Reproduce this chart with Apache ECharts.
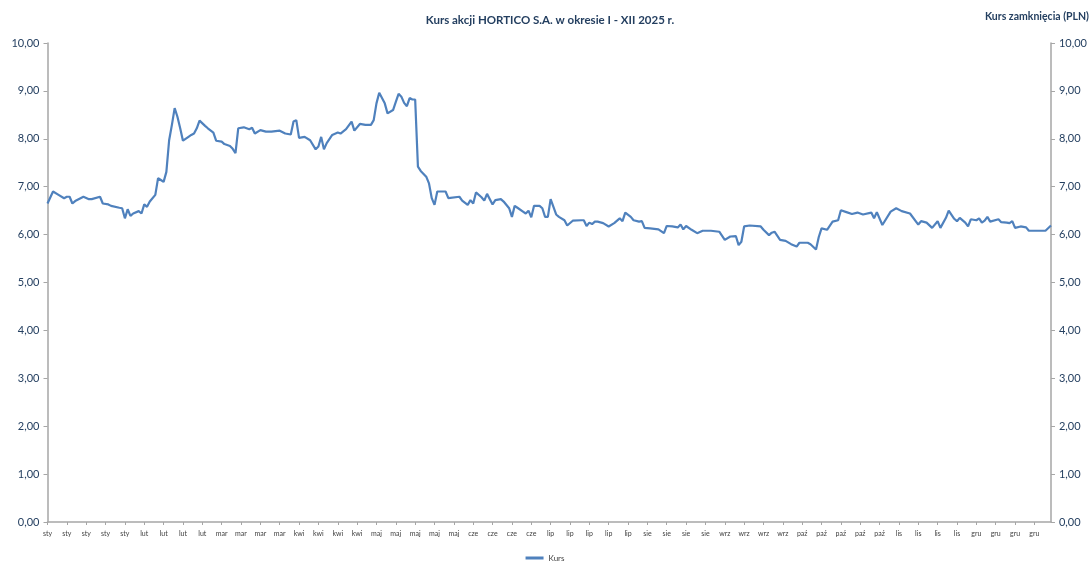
<!DOCTYPE html>
<html>
<head>
<meta charset="utf-8">
<script src="https://cdn.jsdelivr.net/npm/echarts@6/dist/echarts.min.js"></script>
<style>
html,body{margin:0;padding:0;background:#fff;}
#chart{width:1090px;height:563px;}
</style>
</head>
<body>
<div id="chart"></div>
<script>
// Days after 2 Jan 2025 (estimated positions of the quotes on the date axis)
const dayOffsets = [
  0,2,4,6,7,8,9,10,13,15,16,19,20,22,23,26,27,28,29,30,31,33,34,35,36,37,39,40,41,42,43,44,45,46,47,48,49,51,52,53,54,55,57,58,60,61,63,64,66,67,68,69,71,73,74,75,77,79,81,84,86,88,89,90,91,93,95,97,98,99,100,101,103,
  105,106,108,110,111,113,115,117,118,119,120,122,123,125,126,127,128,129,130,131,132,133,134,135,137,138,139,140,141,144,145,149,150,152,153,154,155,157,158,159,161,162,164,165,167,168,169,170,172,173,174,175,176,178,179,180,181,182,184,185,187,188,190,193,194,195,196,197,198,
  199,201,203,205,207,208,209,211,212,214,215,216,218,221,223,224,226,228,229,230,231,233,235,237,240,243,245,247,249,250,251,252,254,258,259,261,262,263,265,267,269,271,272,275,276,278,279,
  280,282,284,286,287,289,291,293,295,298,299,300,302,305,307,309,312,315,316,318,320,322,323,325,326,328,329,330,332,333,334,336,337,338,339,340,341,344,345,347,348,349,350,352,354,355,361,363
];
// Closing price (PLN)
const closes = [
  6.65,6.90,6.83,6.76,6.79,6.79,6.65,6.70,6.79,6.74,6.74,6.79,6.65,6.63,6.60,6.56,6.55,6.34,6.53,6.39,6.44,6.49,6.44,6.63,6.58,6.69,6.83,7.18,7.14,7.10,7.31,7.97,8.29,8.64,8.46,8.22,7.96,8.04,8.08,8.11,8.22,8.38,8.27,8.22,8.13,7.96,7.94,7.89,7.85,7.79,7.70,8.22,8.24,8.20,8.23,8.11,8.18,8.15,8.15,8.17,8.11,8.09,8.36,8.39,8.02,8.04,7.97,7.78,7.84,8.04,7.78,7.91,8.08,
  8.13,8.11,8.20,8.36,8.17,8.31,8.29,8.29,8.39,8.74,8.96,8.74,8.53,8.60,8.77,8.94,8.88,8.75,8.68,8.85,8.82,8.82,7.42,7.33,7.21,7.07,6.76,6.62,6.90,6.90,6.76,6.79,6.71,6.62,6.72,6.65,6.88,6.78,6.71,6.85,6.63,6.72,6.74,6.69,6.55,6.37,6.60,6.56,6.48,6.44,6.50,6.36,6.60,6.60,6.55,6.37,6.37,6.74,6.42,6.37,6.30,6.19,6.29,6.30,6.30,6.18,6.25,6.22,6.27,
  6.27,6.24,6.17,6.24,6.34,6.28,6.46,6.37,6.30,6.27,6.28,6.14,6.13,6.11,6.03,6.18,6.17,6.15,6.21,6.11,6.18,6.10,6.03,6.08,6.08,6.06,5.89,5.96,5.97,5.78,5.85,6.17,6.19,6.17,6.10,5.99,6.04,6.06,5.89,5.87,5.80,5.75,5.83,5.83,5.80,5.69,5.95,
  6.13,6.10,6.27,6.30,6.51,6.47,6.43,6.46,6.42,6.46,6.34,6.47,6.20,6.48,6.55,6.49,6.44,6.21,6.28,6.25,6.14,6.28,6.14,6.35,6.50,6.33,6.28,6.35,6.25,6.17,6.32,6.30,6.34,6.25,6.29,6.37,6.27,6.32,6.26,6.25,6.24,6.28,6.14,6.17,6.15,6.08,6.08,6.19
];
const monthAbbr = ['sty','lut','mar','kwi','maj','cze','lip','sie','wrz','paź','lis','gru'];
const titleText = 'Kurs akcji HORTICO S.A. w okresie I - XII 2025 r.';
const rightAxisTitle = 'Kurs zamknięcia (PLN)';
const seriesName = 'Kurs';
const startDate = Date.UTC(2025, 0, 2);
const lastDay = 363;

const seriesData = dayOffsets.map((d, i) => [d, closes[i]]);
const navy = '#243F60';
const axisGray = '#A6A6A6';
const fmtY = v => v.toFixed(2).replace('.', ',');

const chart = echarts.init(document.getElementById('chart'), null, {renderer: 'canvas'});
chart.setOption({
  animation: false,
  backgroundColor: '#ffffff',
  title: {
    text: titleText,
    left: 545, top: 9, textAlign: 'center',
    textStyle: {fontFamily: 'Lato', fontWeight: 'bold', fontSize: 11.5, color: navy}
  },
  graphic: [{
    type: 'text', right: 1, top: 11,
    style: {text: rightAxisTitle, font: 'bold 10.5px Lato', fill: navy}
  }],
  legend: {
    data: [seriesName], bottom: -4, left: 'center',
    icon: 'rect', itemWidth: 18, itemHeight: 3, itemGap: 4,
    textStyle: {fontFamily: 'Lato', fontSize: 8, color: '#404040'}
  },
  grid: {left: 47.5, right: 36.5, top: 43, bottom: 41, containLabel: false},
  xAxis: {
    type: 'value', min: 0, max: lastDay, interval: 7,
    splitLine: {show: false},
    axisLine: {lineStyle: {color: axisGray, width: 1.5}},
    axisTick: {show: true, length: 3, lineStyle: {color: axisGray}},
    axisLabel: {
      showMaxLabel: false,
      fontFamily: 'Lato', fontSize: 7, color: '#404040', margin: 8,
      formatter: v => {
        if (v % 7 !== 0) return '';
        const dt = new Date(startDate + v * 86400000);
        return monthAbbr[dt.getUTCMonth()];
      }
    }
  },
  yAxis: [{
    type: 'value', min: 0, max: 10, interval: 1, position: 'left',
    splitLine: {show: false},
    axisLine: {show: true, lineStyle: {color: axisGray, width: 1.5}},
    axisTick: {show: true, length: 4, lineStyle: {color: axisGray}},
    axisLabel: {formatter: fmtY, fontFamily: 'Lato', fontSize: 11, color: navy, margin: 8}
  }, {
    type: 'value', min: 0, max: 10, interval: 1, position: 'right',
    splitLine: {show: false},
    axisLine: {show: true, lineStyle: {color: axisGray, width: 1.5}},
    axisTick: {show: true, length: 4, lineStyle: {color: axisGray}},
    axisLabel: {formatter: fmtY, fontFamily: 'Lato', fontSize: 11, color: navy, margin: 8}
  }],
  series: [{
    name: seriesName, type: 'line', data: seriesData,
    showSymbol: false, symbol: 'none',
    lineStyle: {color: '#4F81BD', width: 2.2},
    itemStyle: {color: '#4F81BD'}
  }]
});
</script>
</body>
</html>
